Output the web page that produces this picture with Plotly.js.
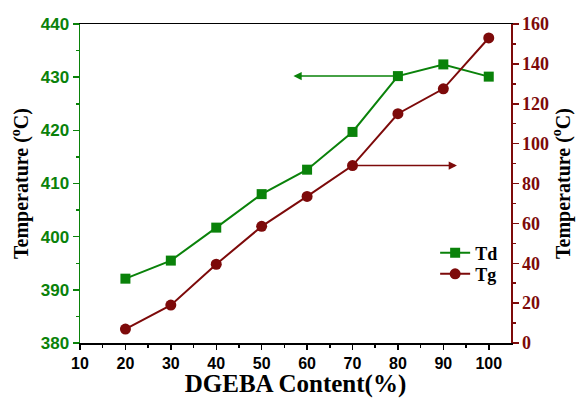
<!DOCTYPE html>
<html><head><meta charset="utf-8">
<script src="https://cdn.plot.ly/plotly-3.0.1.min.js"></script>
<style>html,body{margin:0;padding:0;background:#fff;}#chart{width:577px;height:398px;}</style>
</head><body><div id="chart"></div>
<script>
const content = [20, 30, 40, 50, 60, 70, 80, 90, 100];
const tdValues = [392.1, 395.5, 401.7, 408.0, 412.6, 419.7, 430.2, 432.4, 430.1];
const tgValues = [7, 19, 39.5, 58.5, 73.5, 89, 115, 127.5, 153];
const xTicks = [10, 20, 30, 40, 50, 60, 70, 80, 90, 100];
const leftTicks = [380, 390, 400, 410, 420, 430, 440];
const rightTicks = [0, 20, 40, 60, 80, 100, 120, 140, 160];

const GREEN = '#0a820a';
const RED = '#7d0a0a';
const serif = 'Liberation Serif, Times New Roman, serif';
const sans = 'Liberation Sans, Arial, sans-serif';
const legendFont = {family: serif, size: 18, color: '#000', weight: 'bold'};

const traces = [
  {x: content, y: tdValues, name: 'Td', type: 'scatter', mode: 'lines+markers', legend: 'legend',
   line: {color: GREEN, width: 2}, marker: {symbol: 'square', size: 10, color: GREEN}, yaxis: 'y'},
  {x: content, y: tgValues, name: 'Tg', type: 'scatter', mode: 'lines+markers', legend: 'legend2',
   line: {color: RED, width: 2}, marker: {symbol: 'circle', size: 11, color: RED}, yaxis: 'y2'}
];

const layout = {
  width: 577, height: 398,
  margin: {l: 80, r: 66, t: 24, b: 55},
  paper_bgcolor: '#fff', plot_bgcolor: '#fff',
  showlegend: true,
  legend: {x: 0.824, y: 0.282, xanchor: 'left', yanchor: 'middle', bgcolor: 'rgba(0,0,0,0)', font: legendFont},
  legend2: {x: 0.824, y: 0.216, xanchor: 'left', yanchor: 'middle', bgcolor: 'rgba(0,0,0,0)', font: legendFont},
  xaxis: {range: [10, 104.9], tickvals: xTicks, showgrid: false, zeroline: false,
    showline: true, linecolor: '#000', linewidth: 1.5, mirror: true,
    ticks: 'outside', ticklen: 5, tickcolor: '#000', tickwidth: 1.5,
    minor: {dtick: 5, ticks: 'outside', ticklen: 3, tickcolor: '#000'},
    tickfont: {family: sans, size: 16, color: '#000', weight: 'bold'},
    title: {text: 'DGEBA Content(%)', font: {family: serif, size: 25, color: '#000', weight: 'bold'}, standoff: 8}},
  yaxis: {range: [380, 440], tickvals: leftTicks, showgrid: false, zeroline: false,
    showline: true, linecolor: GREEN, linewidth: 1.5,
    ticks: 'outside', ticklen: 6, tickcolor: GREEN, tickwidth: 1.5,
    minor: {dtick: 5, ticks: 'outside', ticklen: 3, tickcolor: GREEN},
    tickfont: {family: sans, size: 17, color: GREEN, weight: 'bold'},
    title: {text: 'Temperature (<sup>o</sup>C)', font: {family: serif, size: 20, color: '#000', weight: 'bold'}, standoff: 6}},
  yaxis2: {range: [0, 160], tickvals: rightTicks, overlaying: 'y', side: 'right', showgrid: false, zeroline: false,
    showline: true, linecolor: RED, linewidth: 1.5,
    ticks: 'outside', ticklen: 6, tickcolor: RED, tickwidth: 1.5,
    minor: {dtick: 10, ticks: 'outside', ticklen: 3, tickcolor: RED},
    tickfont: {family: serif, size: 18, color: RED, weight: 'bold'},
    title: {text: 'Temperature (<sup>o</sup>C)', font: {family: serif, size: 20, color: '#000', weight: 'bold'}, standoff: 1}},
  annotations: [
    {x: 57, y: tdValues[6], xref: 'x', yref: 'y', ax: content[6], ay: tdValues[6], axref: 'x', ayref: 'y',
     text: '', showarrow: true, arrowhead: 2, arrowsize: 1.1, arrowwidth: 1.5, arrowcolor: GREEN, standoff: 0, startstandoff: 0},
    {x: 93, y: tgValues[5], xref: 'x', yref: 'y2', ax: content[5], ay: tgValues[5], axref: 'x', ayref: 'y2',
     text: '', showarrow: true, arrowhead: 2, arrowsize: 1.1, arrowwidth: 1.5, arrowcolor: RED, standoff: 0, startstandoff: 0}
  ]
};

Plotly.newPlot('chart', traces, layout, {displayModeBar: false, staticPlot: true});
</script></body></html>
